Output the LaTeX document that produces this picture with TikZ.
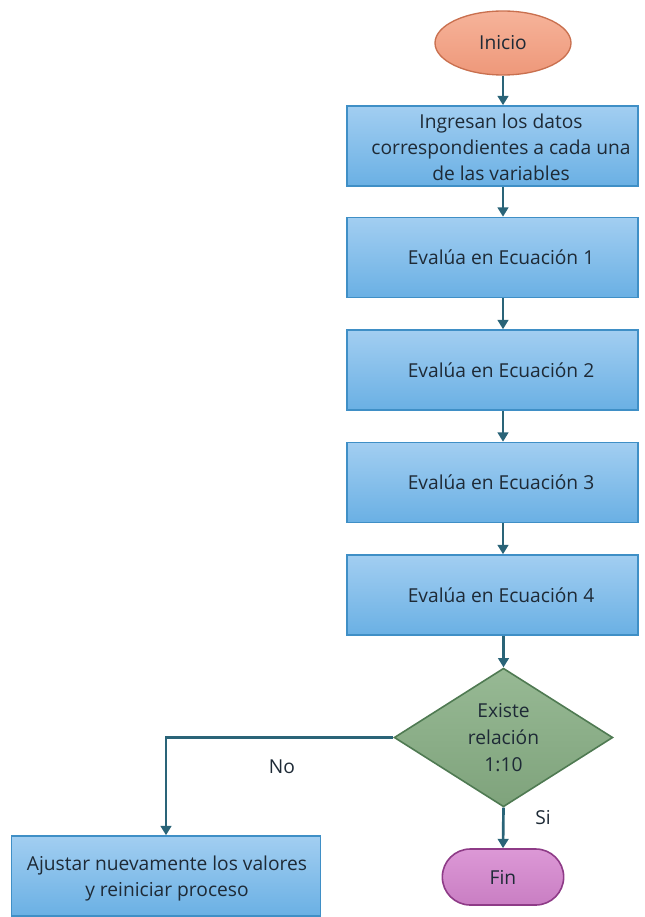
\documentclass[tikz,border=0pt]{standalone}
\usepackage{fontspec}
\setmainfont{Open Sans}
\usetikzlibrary{shapes.geometric,shapes.misc,arrows.meta,calc}

\definecolor{boxtop}{HTML}{A2CEF1}
\definecolor{boxbot}{HTML}{6AB0E4}
\definecolor{boxline}{HTML}{3F8FC6}
\definecolor{ovtop}{HTML}{F6B39A}
\definecolor{ovbot}{HTML}{EE987A}
\definecolor{ovline}{HTML}{C9704F}
\definecolor{dmtop}{HTML}{97B994}
\definecolor{dmbot}{HTML}{7FA37C}
\definecolor{dmline}{HTML}{4F7A52}
\definecolor{fntop}{HTML}{DC98D6}
\definecolor{fnbot}{HTML}{C97EC3}
\definecolor{fnline}{HTML}{8E3B87}
\definecolor{wire}{HTML}{2A6478}
\definecolor{ink}{HTML}{1E2A36}

\tikzset{
  txt/.style={text=ink, font=\fontsize{14.4pt}{19.5pt}\selectfont},
  procbox/.style={draw=boxline, line width=1.2pt, top color=boxtop, bottom color=boxbot,
    minimum height=60pt, inner sep=0pt},
  boxtext/.style={txt, align=center},
  startoval/.style={ellipse, draw=ovline, line width=1pt, top color=ovtop, bottom color=ovbot,
    minimum width=102pt, minimum height=48pt, inner sep=0pt, txt},
  decision/.style={diamond, draw=dmline, line width=1.2pt, top color=dmtop, bottom color=dmbot,
    minimum width=164pt, minimum height=104pt, inner sep=0pt, aspect=1.575, txt,
    font=\fontsize{14.4pt}{20pt}\selectfont, align=center},
  endcap/.style={rounded rectangle, draw=fnline, line width=1.2pt, top color=fntop, bottom color=fnbot,
    minimum width=91pt, minimum height=42pt, inner sep=0pt, txt},
  flow/.style={draw=wire, line width=2pt, -{Triangle[length=7pt,width=8pt]}},
  edgelabel/.style={txt},
}

\begin{document}
\begin{tikzpicture}[x=0.75pt, y=-0.75pt]
  \useasboundingbox (0,0) rectangle (645,917);

  % start
  \node[startoval] (ini) at (503,43) {Inicio};

  % process boxes
  \node[procbox, minimum width=218pt, minimum height=60pt] (b1) at (492.5,146) {};
  \node[boxtext] (t1) at (501,147) {Ingresan los datos\\correspondientes a cada una\\de las variables};

  \node[procbox, minimum width=218pt] (b2) at (492.5,257.5) {};
  \node[boxtext] (t2) at (501,257.5) {Evalúa en Ecuación 1};

  \node[procbox, minimum width=218pt] (b3) at (492.5,370) {};
  \node[boxtext] (t3) at (501,370) {Evalúa en Ecuación 2};

  \node[procbox, minimum width=218pt] (b4) at (492.5,482.5) {};
  \node[boxtext] (t4) at (501,482.5) {Evalúa en Ecuación 3};

  \node[procbox, minimum width=218pt] (b5) at (492.5,595) {};
  \node[boxtext] (t5) at (501,595) {Evalúa en Ecuación 4};

  % decision
  \node[decision] (dec) at (503.5,737.5) {Existe\\relación\\1:10};

  % end
  \node[endcap] (fin) at (503,877) {Fin};

  % adjust box
  \node[procbox, minimum width=232pt] (adj) at (166,876) {};
  \node[boxtext] (tadj) at (167,879) {Ajustar nuevamente los valores\\y reiniciar proceso};

  % connectors
  \draw[flow] (ini.south) -- (b1.north -| ini.south);
  \draw[flow] (b1.south -| ini.south) -- (b2.north -| ini.south);
  \draw[flow] (b2.south -| ini.south) -- (b3.north -| ini.south);
  \draw[flow] (b3.south -| ini.south) -- (b4.north -| ini.south);
  \draw[flow] (b4.south -| ini.south) -- (b5.north -| ini.south);
  \draw[flow] (b5.south -| dec.north) -- (dec.north);
  \draw[flow] (dec.south) -- (fin.north);
  \draw[flow] (dec.west) -| (adj.north);

  % branch labels
  \node[edgelabel] (si) at (543,818) {Si};
  \node[edgelabel] (no) at (282,767) {No};
\end{tikzpicture}
\end{document}
